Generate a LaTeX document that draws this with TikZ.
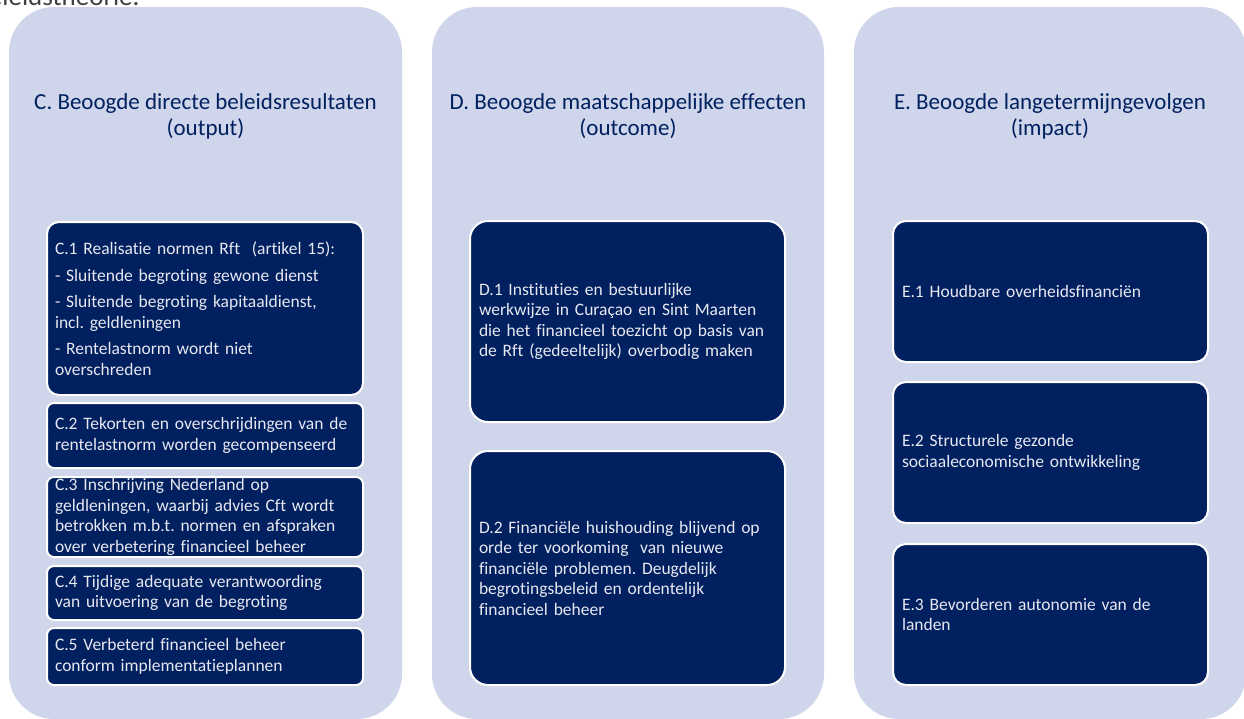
\documentclass[tikz,border=0pt]{standalone}
\RequirePackage{fontspec}
\setmainfont{Carlito}[Ligatures=NoCommon]
\frenchspacing
\definecolor{paneel}{RGB}{207,213,234}
\definecolor{navy}{RGB}{0,32,96}
\definecolor{lichttekst}{RGB}{232,232,240}
\definecolor{grijstekst}{RGB}{64,64,64}
\tikzset{
  kolom/.style={fill=paneel,rounded corners=45pt},
  kop/.style={anchor=base,text=navy,font=\fontsize{23}{24}\selectfont},
  blok/.style={draw=white,line width=2pt,fill=navy,text=lichttekst,align=left,
    inner xsep=8pt,inner ysep=0pt,font=\fontsize{17.5}{20.5}\selectfont},
  cblok/.style={blok,text width=300pt},
  dblok/.style={blok,text width=297pt,inner xsep=9pt,rounded corners=18pt},
  eblok/.style={blok,text width=297pt,inner xsep=9pt,rounded corners=13pt,minimum height=141pt}
}
\begin{document}
\begin{tikzpicture}[x=1pt,y=-1pt]
                        \useasboundingbox (0,0) rectangle (1244,718);
                        \clip (0,0) rectangle (1244,718);
                        \node[anchor=base east,text=grijstekst,font=\fontsize{27}{30}\selectfont] (bovenschrift) at (143,5) {beleidstheorie.};
                        \fill[kolom] (9,7) rectangle (402,719);
                        \fill[kolom] (432,7) rectangle (824,719);
                        \fill[kolom] (854,7) rectangle (1246,719);
                        \node[kop] (ctitel) at (205.5,109) {C. Beoogde directe beleidsresultaten};
                        \node[kop] (csub) at (205.5,135) {(output)};
                        \node[kop] (dtitel) at (628,109) {D. Beoogde maatschappelijke effecten};
                        \node[kop] (dsub) at (628,135) {(outcome)};
                        \node[kop] (etitel) at (1050,109) {E. Beoogde langetermijngevolgen};
                        \node[kop] (esub) at (1050,135) {(impact)};
                        \node[cblok,rounded corners=12pt,minimum height=173pt] (c1) at (205,308.5)
                            {C.1 Realisatie normen Rft\ \ (artikel 15):\\[6pt]
                             - Sluitende begroting gewone dienst\\[6pt]
                             - Sluitende begroting kapitaaldienst,\\ incl. geldleningen\\[6pt]
                             - Rentelastnorm wordt niet\\ overschreden};
                        \node[cblok,rounded corners=7pt,minimum height=65pt] (c2) at (205,435.5)
                            {C.2 Tekorten en overschrijdingen van de\\ rentelastnorm worden gecompenseerd};
                        \node[cblok,rounded corners=7pt,minimum height=80pt] (c3) at (205,517)
                            {C.3 Inschrijving Nederland op\\ geldleningen, waarbij advies Cft wordt\\
                             betrokken m.b.t. normen en afspraken\\ over verbetering financieel beheer};
                        \node[cblok,rounded corners=7pt,minimum height=54pt] (c4) at (205,593)
                            {C.4 Tijdige adequate verantwoording\\ van uitvoering van de begroting};
                        \node[cblok,rounded corners=7pt,minimum height=57pt] (c5) at (205,656.5)
                            {C.5 Verbeterd financieel beheer\\ conform implementatieplannen};
                        \node[dblok,minimum height=201pt] (d1) at (627.5,321.5)
                            {D.1 Instituties en bestuurlijke\\ werkwijze in Curaçao en Sint Maarten\\
                             die het financieel toezicht op basis van\\ de Rft (gedeeltelijk) overbodig maken};
                        \node[dblok,minimum height=234pt] (d2) at (627.5,568)
                            {D.2 Financiële huishouding blijvend op\\ orde ter voorkoming\ \ van nieuwe\\
                             financiële problemen. Deugdelijk\\ begrotingsbeleid en ordentelijk\\ financieel beheer};
                        \node[eblok] (e1) at (1050.5,291.5) {E.1 Houdbare overheidsfinanciën};
                        \node[eblok] (e2) at (1050.5,452.5) {E.2 Structurele gezonde\\ sociaaleconomische ontwikkeling};
                        \node[eblok] (e3) at (1050.5,614.5) {E.3 Bevorderen autonomie van de\\ landen};
                    \end{tikzpicture}
\end{document}
